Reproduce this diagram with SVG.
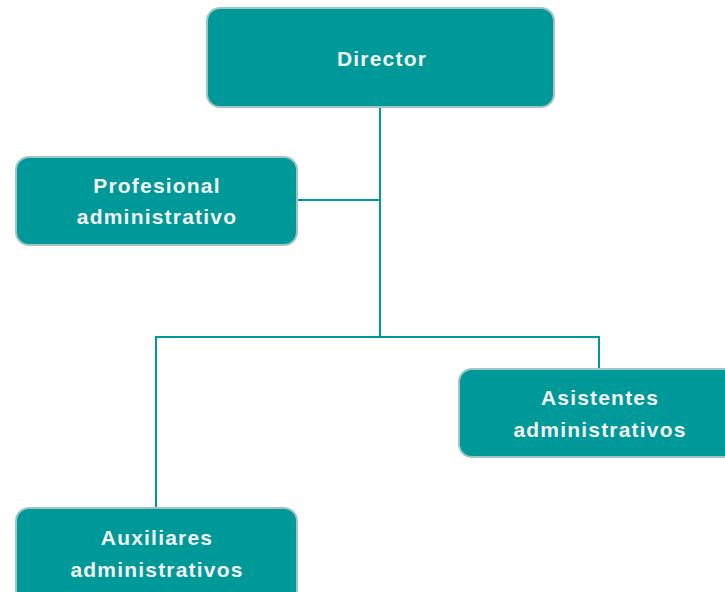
<svg xmlns="http://www.w3.org/2000/svg" width="725" height="592" viewBox="0 0 725 592">
<style>
.box{fill:#009999;stroke:#a3c4c4;stroke-width:2}
.lbl{font-family:"Liberation Sans",Arial,sans-serif;font-weight:bold;font-size:21px;fill:#f2f2f2;text-anchor:middle;letter-spacing:1.2px;dominant-baseline:central}
.conn{fill:none;stroke:#009999;stroke-width:2}
</style>
<rect width="725" height="592" fill="#ffffff"/>
<g id="connectors">
<path class="conn" d="M380 107 V337"/>
<path class="conn" d="M297 200 H380"/>
<path class="conn" d="M156 508 V337 H599 V369"/>
</g>
<g id="director">
<rect class="box" x="207" y="8" width="347" height="99" rx="13"/>
<text class="lbl" x="382" y="58">Director</text>
</g>
<g id="profesional">
<rect class="box" x="16" y="157" width="281" height="88" rx="13"/>
<text class="lbl" x="157" y="185">Profesional</text>
<text class="lbl" x="157" y="216">administrativo</text>
</g>
<g id="asistentes">
<rect class="box" x="459" y="369" width="290" height="88" rx="13"/>
<text class="lbl" x="600" y="397">Asistentes</text>
<text class="lbl" x="600" y="429">administrativos</text>
</g>
<g id="auxiliares">
<rect class="box" x="16" y="508" width="281" height="100" rx="13"/>
<text class="lbl" x="157" y="537">Auxiliares</text>
<text class="lbl" x="157" y="569">administrativos</text>
</g>
</svg>
